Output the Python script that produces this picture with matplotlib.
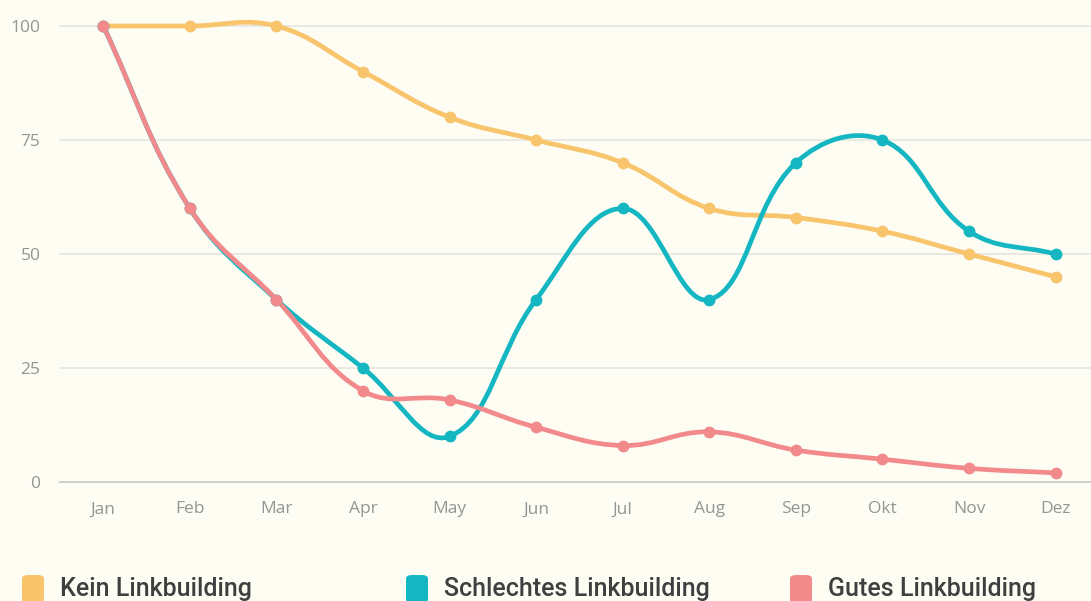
import numpy as np
import matplotlib.pyplot as plt
from matplotlib.path import Path
from matplotlib.patches import PathPatch, FancyBboxPatch

# -------------------------------------------------------------------
# Data
# -------------------------------------------------------------------
months = ["Jan", "Feb", "Mar", "Apr", "May", "Jun",
          "Jul", "Aug", "Sep", "Okt", "Nov", "Dez"]
kein = [100, 100, 100, 90, 80, 75, 70, 60, 58, 55, 50, 45]
schlecht = [100, 60, 40, 25, 10, 40, 60, 40, 70, 75, 55, 50]
gut = [100, 60, 40, 20, 18, 12, 8, 11, 7, 5, 3, 2]

series = [
    ("Kein Linkbuilding", kein, "#F8C46C"),
    ("Schlechtes Linkbuilding", schlecht, "#14B6C2"),
    ("Gutes Linkbuilding", gut, "#F28A8C"),
]

BG = "#FDFDF4"
W, H = 1091, 601

fig = plt.figure(figsize=(W / 100, H / 100), dpi=100, facecolor=BG)
ax = fig.add_axes([60 / W, 119 / H, 1031 / W, 456 / H], facecolor=BG)

# pixel scale of one data unit (used so the spline tension looks right)
SX, SY = 86.6, 4.56


def spline_path(xs, ys, t=0.4):
    """Chart.js-style cubic bezier through the points."""
    px = np.asarray(xs, float) * SX
    py = np.asarray(ys, float) * SY
    n = len(px)
    c_prev, c_next = [], []
    for i in range(n):
        p0 = (px[max(i - 1, 0)], py[max(i - 1, 0)])
        p1 = (px[i], py[i])
        p2 = (px[min(i + 1, n - 1)], py[min(i + 1, n - 1)])
        d01 = np.hypot(p1[0] - p0[0], p1[1] - p0[1])
        d12 = np.hypot(p2[0] - p1[0], p2[1] - p1[1])
        tot = d01 + d12 if d01 + d12 else 1
        fa, fb = t * d01 / tot, t * d12 / tot
        dx, dy = p2[0] - p0[0], p2[1] - p0[1]
        c_prev.append((p1[0] - fa * dx, p1[1] - fa * dy))
        c_next.append((p1[0] + fb * dx, p1[1] + fb * dy))
    verts = [(px[0] / SX, py[0] / SY)]
    codes = [Path.MOVETO]
    for i in range(n - 1):
        verts += [(c_next[i][0] / SX, c_next[i][1] / SY),
                  (c_prev[i + 1][0] / SX, c_prev[i + 1][1] / SY),
                  (px[i + 1] / SX, py[i + 1] / SY)]
        codes += [Path.CURVE4] * 3
    return Path(verts, codes)


x = np.arange(len(months))

# grid
for v in [25, 50, 75, 100]:
    ax.axhline(v, color="#E6E6E0", linewidth=1.2, zorder=0, clip_on=False)
ax.axhline(0, color="#CFCFCA", linewidth=1.4, zorder=0, clip_on=False)

for name, vals, col in series:
    patch = PathPatch(spline_path(x, vals), facecolor="none", edgecolor=col,
                      linewidth=3.4, capstyle="round", joinstyle="round",
                      clip_on=False, zorder=3)
    ax.add_patch(patch)
    ax.plot(x, vals, "o", color=col, markersize=7.5, clip_on=False, zorder=4)

ax.set_xlim(-0.5, 11.41)
ax.set_ylim(0, 100)
ax.set_xticks(x)
ax.set_xticklabels(months)
ax.set_yticks([0, 25, 50, 75, 100])
ax.tick_params(length=0, labelsize=12.5, labelcolor="#959595")
ax.tick_params(axis="y", pad=14)
ax.tick_params(axis="x", pad=14)
for lab in ax.get_xticklabels() + ax.get_yticklabels():
    lab.set_fontfamily("Open Sans")
for s in ax.spines.values():
    s.set_visible(False)

# legend along the bottom (partly cut off, as in the source)
legend_x = [22, 406, 790]
for (name, vals, col), lx in zip(series, legend_x):
    box = FancyBboxPatch((lx / W, (H - 603) / H), 22 / W, 28 / H,
                         boxstyle="round,pad=0,rounding_size=0.006",
                         transform=fig.transFigure, facecolor=col,
                         edgecolor="none")
    fig.patches.append(box)
    fig.text((lx + 38) / W, (H - 589) / H, name, fontsize=18,
             fontweight="medium", family="Roboto", color="#3F3F3F",
             va="center", ha="left")

fig.savefig("out.png", dpi=100, facecolor=BG)
